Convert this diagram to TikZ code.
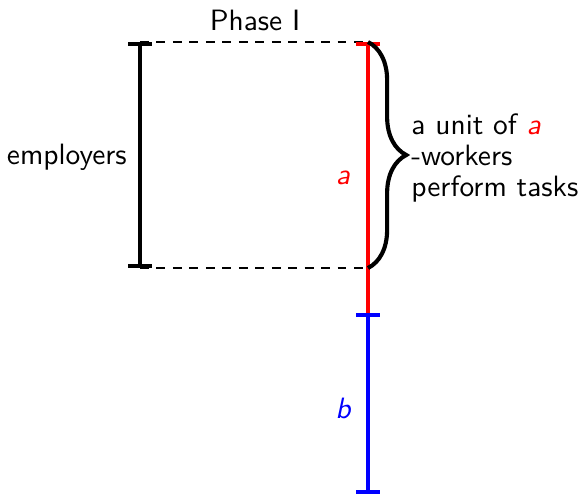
\documentclass[tikz,border=0pt]{standalone}
\usepackage{xcolor}
\usepackage{tikz}
\usetikzlibrary{arrows.meta, decorations.pathreplacing, positioning}

\tikzset{
  lbl/.style={font=\sffamily\fontsize{10}{10.5}\selectfont},
  capped/.style={line width=1.2pt, {Bar[width=8pt,line width=1.2pt]}-{Bar[width=8pt,line width=1.2pt]}},
  guide/.style={dashed, line width=0.7pt, dash pattern=on 3pt off 2.6pt}
}

\begin{document}
\begin{tikzpicture}[x=0.34pt, y=-0.34pt]
        \useasboundingbox (0,0) rectangle (580,497);
        % Phase I: employers box
        \coordinate (lt) at (140,42);
        \coordinate (lb) at (140,268);
        \coordinate (rt) at (368,42);
        \coordinate (rb) at (368,268);
        \coordinate (mid) at (368,313);
        \coordinate (bot) at (368,494);
        \draw[guide] (lt) -- (rt);
        \draw[guide] (lb) -- (rb);
        \draw[capped] (lt) -- (lb);
        \node[lbl, anchor=east] (emp) at (137,157) {employers};
        \node[lbl] (phase) at (255,20) {Phase I};

        % Segments a and b
        \draw[capped, red, {Bar[width=8pt,line width=1.2pt]}-] (rt) -- (mid);
        \draw[capped, blue] (mid) -- (bot);
        \node[lbl, red] (la) at (343,178) {\itshape a};
        \node[lbl, blue] (lb2) at (343,408) {\itshape b};

        % Brace
        \draw[line width=1.4pt, decorate, decoration={brace, amplitude=13pt}] (rt) -- (rb);
        \node[lbl, anchor=west, align=left] (unit) at (401,158)
            {a unit of {\color{red}\itshape a}\\-workers\\perform tasks};
    \end{tikzpicture}
\end{document}
